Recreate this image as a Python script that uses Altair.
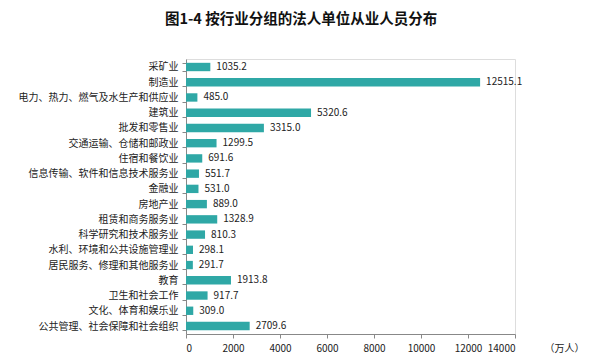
import altair as alt
import pandas as pd

categories = [
    "采矿业", "制造业", "电力、热力、燃气及水生产和供应业", "建筑业", "批发和零售业",
    "交通运输、仓储和邮政业", "住宿和餐饮业", "信息传输、软件和信息技术服务业", "金融业",
    "房地产业", "租赁和商务服务业", "科学研究和技术服务业", "水利、环境和公共设施管理业",
    "居民服务、修理和其他服务业", "教育", "卫生和社会工作", "文化、体育和娱乐业",
    "公共管理、社会保障和社会组织",
]
values = [1035.2, 12515.1, 485.0, 5320.6, 3315.0, 1299.5, 691.6, 551.7, 531.0,
          889.0, 1328.9, 810.3, 298.1, 291.7, 1913.8, 917.7, 309.0, 2709.6]
x_ticks = [0, 2000, 4000, 6000, 8000, 10000, 12000, 14000]

df = pd.DataFrame({"cat": categories, "val": values})
df["label"] = [f"{v:.1f}" for v in values]

font = "Noto Sans CJK SC"
color = "#2fa8a6"
fs = 10

y = alt.Y("cat:N", sort=categories, title=None,
          scale=alt.Scale(paddingInner=0.45, paddingOuter=0.25),
          axis=alt.Axis(labelFont=font, labelFontSize=fs, labelColor="#222",
                        domainColor="#888", tickColor="#888", tickSize=4,
                        tickBand="extent", labelPadding=4))
x = alt.X("val:Q", title="（万人）",
          scale=alt.Scale(domain=[0, 14000], nice=False),
          axis=alt.Axis(values=x_ticks, format="d", grid=False,
                        labelFont=font, labelFontSize=fs, labelColor="#222",
                        labelPadding=5,
                        domainColor="#888", tickColor="#888", tickSize=4,
                        titleFont=font, titleFontSize=fs, titleFontWeight="normal",
                        titleColor="#222", titleAlign="left", titleX=358, titleY=14,
                        titleBaseline="middle"))

bars = alt.Chart(df).mark_bar(color=color).encode(x=x, y=y)
labels = alt.Chart(df).mark_text(align="left", dx=6, font=font, fontSize=fs,
                                 color="#222").encode(x="val:Q", y=alt.Y("cat:N", sort=categories), text="label:N")

chart = (bars + labels).properties(
    width=329, height=275,
    title=alt.TitleParams("图1-4 按行业分组的法人单位从业人员分布", font=font,
                          fontSize=14.5, fontWeight="bold", color="#111",
                          anchor="middle", frame="bounds", offset=27),
).configure_view(stroke=None).configure(padding={"left": 10, "top": 3, "right": 5, "bottom": 5})

chart.save("out.html", embed_options={"renderer": "svg", "actions": False})
